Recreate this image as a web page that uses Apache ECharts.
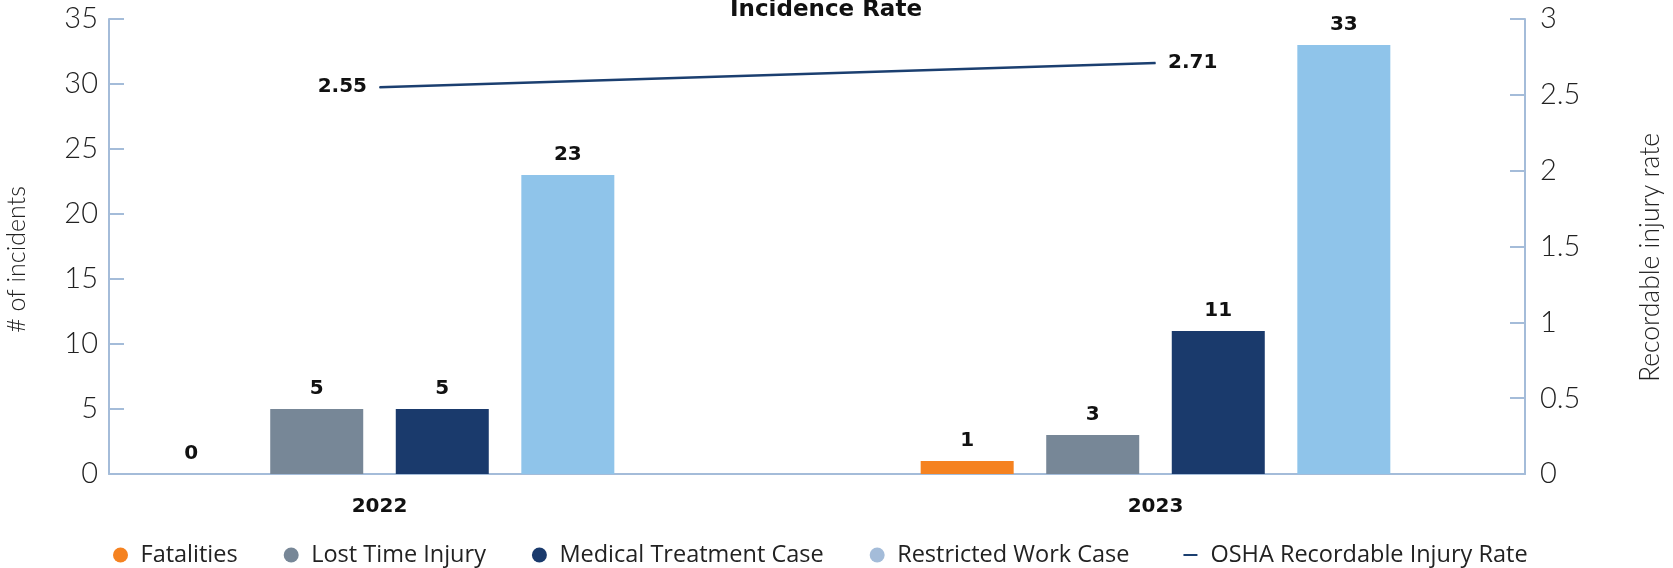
<!DOCTYPE html>
<html>
<head>
<meta charset="utf-8">
<title>Incidence Rate</title>
<script src="https://cdn.jsdelivr.net/npm/echarts@6/dist/echarts.min.js"></script>
<style>
  html, body { margin: 0; padding: 0; background: #fff; }
  #chart { width: 1673px; height: 568px; }
</style>
</head>
<body>
<div id="chart"></div>
<script>
// data
const years = ['2022', '2023']
const fatalities = [0, 1]
const lostTime = [5, 3]
const medical = [5, 11]
const restricted = [23, 33]
const oshaRate = [2.55, 2.71]
const leftTicks = { min: 0, max: 35, interval: 5 }
const rightTicks = { min: 0, max: 3, interval: 0.5 }

const THIN = 'Lato, "Open Sans", sans-serif'
const BOLD = '"DejaVu Sans", sans-serif'
const LEGEND = '"Open Sans", Lato, sans-serif'
const axisColor = '#A4BCD9'

const chart = echarts.init(document.getElementById('chart'))

const barLabel = {
  show: true,
  position: 'top',
  distance: 10,
  fontFamily: BOLD,
  fontSize: 20,
  fontWeight: 'bold',
  color: '#111'
}

const barSeries = (name, data, color) => ({
  name,
  type: 'bar',
  xAxisIndex: 0,
  yAxisIndex: 0,
  barWidth: 93,
  barGap: '35%',
  data,
  itemStyle: { color },
  label: barLabel
})

chart.setOption({
  animation: false,
  title: {
    text: 'Incidence Rate',
    left: 821,
    textAlign: 'center',
    top: -6,
    textStyle: { fontFamily: BOLD, fontSize: 23, fontWeight: 'bold', color: '#111' }
  },
  legend: {
    left: 113,
    bottom: 1,
    padding: 0,
    itemGap: 46,
    itemWidth: 30,
    itemHeight: 15,
    textStyle: { fontFamily: LEGEND, fontSize: 23.5, color: '#222' },
    data: [
      { name: 'Fatalities', icon: 'circle' },
      { name: 'Lost Time Injury', icon: 'circle' },
      { name: 'Medical Treatment Case', icon: 'circle' },
      { name: 'Restricted Work Case', icon: 'circle', itemStyle: { color: '#A4BCD9' } },
      { name: 'OSHA Recordable Injury Rate', icon: 'path://M0,0M30,15M8,6.5H22V8.5H8Z' }
    ]
  },
  grid: [
    // plotting grid: category band set so the groups sit where the reference has them
    { left: -8.5, right: 129.5, top: 19, bottom: 94, outerBoundsMode: 'none' },
    // frame grid: only used for the visible bottom axis line
    { left: 109, right: 148, top: 19, bottom: 94, outerBoundsMode: 'none' }
  ],
  xAxis: [
    {
      type: 'category',
      gridIndex: 0,
      data: years,
      axisLine: { show: false },
      axisTick: { show: false },
      axisLabel: {
        margin: 23,
        fontFamily: BOLD,
        fontSize: 20,
        fontWeight: 'bold',
        color: '#111'
      }
    },
    {
      type: 'category',
      gridIndex: 1,
      data: years,
      axisLine: { show: true, lineStyle: { color: axisColor, width: 2 } },
      axisTick: { show: false },
      axisLabel: { show: false }
    }
  ],
  yAxis: [
    {
      type: 'value',
      gridIndex: 0,
      position: 'left',
      offset: -117.5,
      min: leftTicks.min,
      max: leftTicks.max,
      interval: leftTicks.interval,
      name: '# of incidents',
      nameLocation: 'middle',
      nameGap: 80,
      nameTextStyle: { fontFamily: THIN, fontSize: 25, fontWeight: 300, color: '#222', padding: [0, 26, 0, 0] },
      axisLine: { show: true, lineStyle: { color: axisColor, width: 2 } },
      axisTick: { show: true, inside: true, length: 15, lineStyle: { color: axisColor, width: 2 } },
      splitLine: { show: false },
      axisLabel: { margin: 11, fontFamily: THIN, fontSize: 29, fontWeight: 300, color: '#222' }
    },
    {
      type: 'value',
      gridIndex: 0,
      position: 'right',
      offset: -18.5,
      min: rightTicks.min,
      max: rightTicks.max,
      interval: rightTicks.interval,
      name: 'Recordable injury rate',
      nameLocation: 'middle',
      nameGap: 112,
      nameRotate: 90,
      nameTextStyle: { fontFamily: THIN, fontSize: 26.5, fontWeight: 300, color: '#222', padding: [0, 22, 0, 0] },
      axisLine: { show: true, lineStyle: { color: axisColor, width: 2 } },
      axisTick: { show: true, inside: true, length: 15, lineStyle: { color: axisColor, width: 2 } },
      splitLine: { show: false },
      axisLabel: { margin: 15, fontFamily: THIN, fontSize: 29, fontWeight: 300, color: '#222' }
    },
    { type: 'value', gridIndex: 1, show: false }
  ],
  series: [
    barSeries('Fatalities', fatalities, '#F58220'),
    barSeries('Lost Time Injury', lostTime, '#778797'),
    barSeries('Medical Treatment Case', medical, '#1A3A6C'),
    barSeries('Restricted Work Case', restricted, '#8FC4EA'),
    {
      name: 'OSHA Recordable Injury Rate',
      type: 'line',
      xAxisIndex: 0,
      yAxisIndex: 1,
      symbol: 'circle',
      symbolSize: 1,
      showSymbol: true,
      lineStyle: { color: '#1B3F70', width: 2.5 },
      itemStyle: { color: '#1B3F70' },
      data: oshaRate.map((v, i) => ({
        value: v,
        label: { position: i === 0 ? 'left' : 'right' }
      })),
      label: {
        show: true,
        distance: 12,
        fontFamily: BOLD,
        fontSize: 20,
        fontWeight: 'bold',
        color: '#111'
      }
    }
  ]
})

window.onresize = () => {
  chart.resize()
}
</script>
</body>
</html>
